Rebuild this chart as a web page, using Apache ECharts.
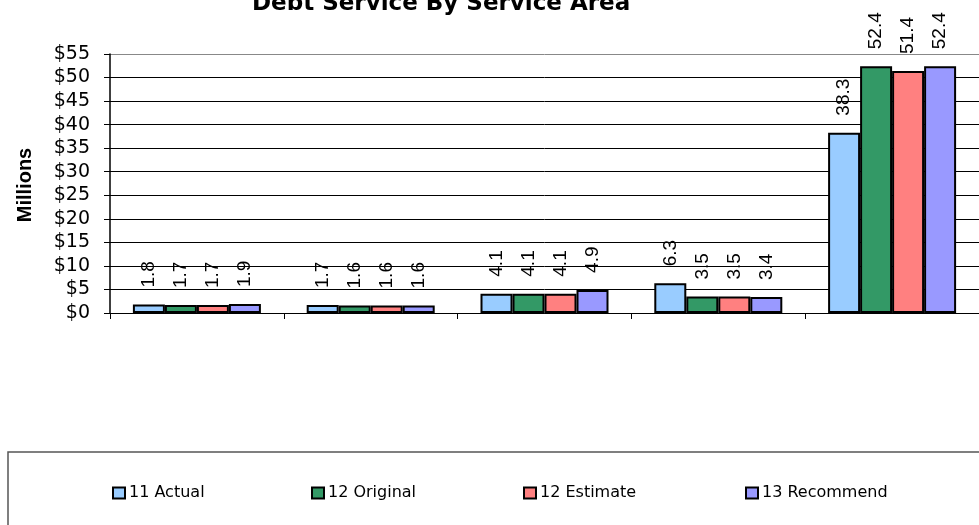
<!DOCTYPE html>
<html>
<head>
<meta charset="utf-8">
<script src="https://cdn.jsdelivr.net/npm/echarts@6/dist/echarts.min.js"></script>
<style>
html,body{margin:0;padding:0;background:#fff;}
#chart{width:979px;height:525px;}
</style>
</head>
<body>
<div id="chart"></div>
<script>
var categories = ['Area 1', 'Area 2', 'Area 3', 'Area 4', 'Area 5'];
var seriesNames = ['11 Actual', '12 Original', '12 Estimate', '13 Recommend'];
var actual11 = [1.8, 1.7, 4.1, 6.3, 38.3];
var original12 = [1.7, 1.6, 4.1, 3.5, 52.4];
var estimate12 = [1.7, 1.6, 4.1, 3.5, 51.4];
var recommend13 = [1.9, 1.6, 4.9, 3.4, 52.4];
var colors = ['#99CCFF', '#339966', '#FF8080', '#9999FF'];
var legendLefts = [112, 311, 523, 745];

var values = [actual11, original12, estimate12, recommend13];
var chart = echarts.init(document.getElementById('chart'));

var series = seriesNames.map(function (name, i) {
  return {
    name: name,
    type: 'bar',
    data: values[i],
    barWidth: 32,
    barGap: '0%',
    itemStyle: { color: colors[i], borderColor: '#000', borderWidth: 2 },
    label: {
      show: true,
      position: 'top',
      rotate: 90,
      align: 'left',
      verticalAlign: 'middle',
      distance: 17,
      fontFamily: 'Liberation Sans',
      fontSize: 19,
      color: '#000',
      formatter: function (p) { return p.value.toFixed(1); }
    }
  };
});

var legends = seriesNames.map(function (name, i) {
  return {
    data: [name],
    left: legendLefts[i],
    top: 485,
    padding: 0,
    itemWidth: 12,
    itemHeight: 11,
    itemGap: 0,
    icon: 'rect',
    itemStyle: { borderColor: '#000', borderWidth: 2 },
    textStyle: { fontFamily: 'DejaVu Sans', fontSize: 16, color: '#000', padding: [0, 0, 0, -1] }
  };
});

var gridColors = [];
for (var k = 0; k < 11; k++) gridColors.push('#000');
gridColors.push('#888');

chart.setOption({
  animation: false,
  backgroundColor: '#fff',
  title: {
    text: 'Debt Service By Service Area',
    left: 252,
    top: -7,
    padding: 0,
    textStyle: { fontFamily: 'DejaVu Sans', fontWeight: 'bold', fontSize: 23, color: '#000' }
  },
  legend: legends,
  grid: { left: 110, top: 54, width: 873, height: 259, containLabel: false },
  xAxis: {
    type: 'category',
    data: categories,
    axisLine: { show: true, lineStyle: { color: '#000', width: 1 } },
    axisTick: { show: true, length: 6, lineStyle: { color: '#000' } },
    axisLabel: { show: false },
    splitLine: { show: false }
  },
  yAxis: {
    type: 'value',
    min: 0,
    max: 55,
    interval: 5,
    axisLine: { show: true, lineStyle: { color: '#000', width: 1.5 } },
    axisTick: { show: true, length: 6, lineStyle: { color: '#000' } },
    axisLabel: {
      margin: 20,
      fontFamily: 'DejaVu Sans',
      fontSize: 19,
      color: '#000',
      formatter: function (v) { return '$' + v; }
    },
    splitLine: { show: true, lineStyle: { color: gridColors, width: 1 } }
  },
  graphic: [
    {
      type: 'text',
      x: 25,
      y: 185,
      rotation: Math.PI / 2,
      style: {
        text: 'Millions',
        fontFamily: 'Liberation Sans',
        fontWeight: 'bold',
        fontSize: 20,
        fill: '#000',
        align: 'center',
        verticalAlign: 'middle'
      }
    },
    {
      type: 'rect',
      shape: { x: 8, y: 452, width: 1000, height: 100 },
      style: { fill: 'none', stroke: '#555', lineWidth: 1.5 },
      z: 0
    }
  ],
  series: series
});
</script>
</body>
</html>
